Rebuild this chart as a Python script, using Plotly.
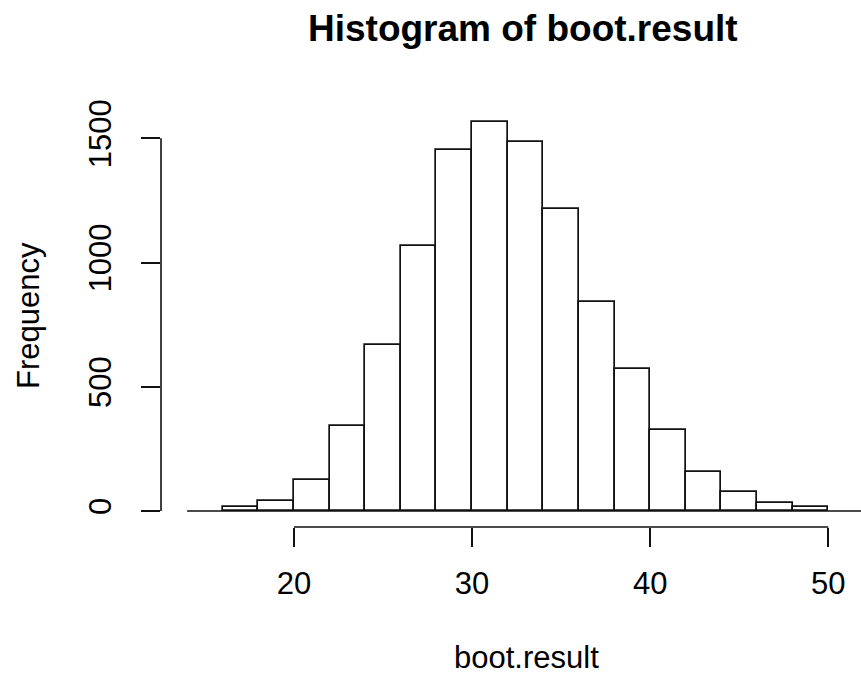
import plotly.graph_objects as go

# ---- data ----
bin_left = [16, 18, 20, 22, 24, 26, 28, 30, 32, 34, 36, 38, 40, 42, 44, 46, 48]
bin_width = 2
counts = [15, 40, 124, 342, 670, 1068, 1452, 1566, 1484, 1216, 840, 570, 325, 156, 75, 33, 15]
all_breaks = [14, 52]          # outer range of breaks (empty bins at both ends)
x_ticks = [20, 30, 40, 50]
y_ticks = [0, 500, 1000, 1500]

FONT = "Liberation Sans, Arial, sans-serif"
W, H = 861, 679
L, R, T, B = 161, 0, 105, 152

centers = [b + bin_width / 2 for b in bin_left]

fig = go.Figure()
fig.add_trace(go.Bar(
    x=centers, y=counts, width=[bin_width] * len(counts),
    marker=dict(color="white", line=dict(color="#111", width=1.7)),
    hoverinfo="x+y", showlegend=False,
))
# baseline of empty bins
fig.add_trace(go.Scatter(
    x=all_breaks, y=[0, 0], mode="lines",
    line=dict(color="#111", width=1.7), showlegend=False, hoverinfo="skip",
))

fig.update_layout(
    width=W, height=H,
    margin=dict(l=L, r=R, t=T, b=B),
    paper_bgcolor="white", plot_bgcolor="white",
    font=dict(family=FONT, color="black", size=31),
    bargap=0,
    xaxis=dict(
        range=[12.532, 51.836], showgrid=False, zeroline=False, showline=False,
        tickmode="array", tickvals=x_ticks, ticks="outside", ticklen=19,
        tickwidth=1.6, tickcolor="#111", tickfont=dict(size=31),
        ticklabelstandoff=10,
    ),
    yaxis=dict(
        range=[-64.4, 1634], showgrid=False, zeroline=False, showline=False,
        tickmode="array", tickvals=y_ticks, ticks="outside", ticklen=19,
        tickwidth=1.6, tickcolor="#111", tickangle=-90, tickfont=dict(size=31),
        ticklabelstandoff=18,
    ),
    shapes=[
        dict(type="line", xref="x", yref="paper", x0=x_ticks[0], x1=x_ticks[-1],
             y0=0, y1=0, line=dict(color="#111", width=1.6)),
        dict(type="line", xref="paper", yref="y", x0=0, x1=0,
             y0=y_ticks[0], y1=y_ticks[-1], line=dict(color="#111", width=1.6)),
    ],
    annotations=[
        dict(text="<b>Histogram of boot.result</b>", xref="paper", yref="paper",
             x=(523 - L) / (W - L - R), y=(H - B - 28) / (H - T - B),
             xanchor="center", yanchor="middle", showarrow=False,
             font=dict(size=37, family=FONT)),
        dict(text="boot.result", xref="paper", yref="paper",
             x=(526 - L) / (W - L - R), y=(H - B - 657) / (H - T - B),
             xanchor="center", yanchor="middle", showarrow=False,
             font=dict(size=31, family=FONT)),
        dict(text="Frequency", xref="paper", yref="paper",
             x=(28 - L) / (W - L - R), y=(H - B - 316) / (H - T - B),
             xanchor="center", yanchor="middle", showarrow=False, textangle=-90,
             font=dict(size=31, family=FONT)),
    ],
)

fig.write_html("out.html")
